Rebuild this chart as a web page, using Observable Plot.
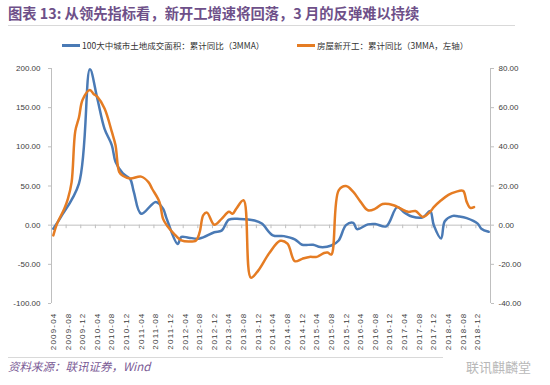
<!DOCTYPE html>
<html><head><meta charset="utf-8">
<script src="https://cdn.jsdelivr.net/npm/d3@7"></script>
<script src="https://cdn.jsdelivr.net/npm/@observablehq/plot@0.6"></script>
<style>
body{margin:0;background:#fff;width:550px;height:385px;position:relative;overflow:hidden;font-family:"Liberation Sans","Noto Sans CJK SC",sans-serif;}
.abs{position:absolute;white-space:nowrap;line-height:1;}
#title{left:8px;top:6px;font-size:14.3px;font-weight:bold;color:#6e5089;font-family:"Noto Sans CJK SC",sans-serif;}
.sep{position:absolute;height:1px;background:#d9d9d9;}
.leg{top:41px;font-size:8.5px;color:#333;font-family:"Noto Sans CJK SC",sans-serif;display:flex;align-items:center;}
.leg i{display:inline-block;width:18px;height:2.5px;margin-right:2px;}
#src{left:8px;top:361px;font-size:11.5px;font-style:italic;color:#7a5a95;font-family:"Noto Sans CJK SC",sans-serif;}
#wm{left:466px;top:360px;font-size:13px;color:#b8b8b8;font-family:"Noto Sans CJK SC",sans-serif;}
#chart{position:absolute;left:0;top:55px;}
#chart g[aria-label="y-axis tick"], #chart g[aria-label="x-axis tick"]{stroke:#bfbfbf;}
#chart g[aria-label="x-axis tick label"] text{letter-spacing:1.2px;}
</style></head>
<body>
<div id="title" class="abs">图表 13: 从领先指标看，新开工增速将回落，3 月的反弹难以持续</div>
<div class="sep" style="left:8px;top:25px;width:507px;"></div>
<div class="abs leg" style="left:62px;"><i style="background:#4a7ab5"></i>100大中城市土地成交面积：累计同比（3MMA）</div>
<div class="abs leg" style="left:297px;"><i style="background:#e57c23"></i>房屋新开工：累计同比（3MMA，左轴）</div>
<div id="chart"></div>
<div class="sep" style="left:8px;top:357px;width:435px;"></div>
<div id="src" class="abs">资料来源：联讯证券，Wind</div>
<div id="wm" class="abs">联讯麒麟堂</div>
<script>
// 100大中城市土地成交面积：累计同比（3MMA） — left axis
const blueDates = ["2009-04","2009-06","2009-11","2010-02","2010-04","2010-06","2010-08","2010-09","2010-11","2011-01","2011-02","2011-04","2011-08","2011-10","2011-11","2012-02","2012-03","2012-05","2012-08","2012-12","2013-02","2013-04","2013-07","2013-11","2014-01","2014-04","2014-07","2014-10","2014-12","2015-03","2015-05","2015-08","2015-10","2015-12","2016-02","2016-03","2016-06","2016-08","2016-11","2017-02","2017-04","2017-06","2017-09","2017-11","2017-12","2018-02","2018-03","2018-05","2018-07","2018-09","2018-12","2019-01","2019-03"];
const blueValues = [-4.5,10,53,199,162,123,102,81,66,59,42.5,14.5,29.7,21,8,-24,-15,-16,-17,-9,-7,7,8,6,2,-13,-14,-18,-25,-25,-28,-26,-19.5,0,3,-5,1,1.5,-1.5,23,16,11,10,18,0,-17,5,11.6,11,9,2,-4.6,-8.5];
// 房屋新开工：累计同比（3MMA） — right-axis units
const orangeDates = ["2009-04","2009-05","2009-07","2009-08","2009-09","2009-10","2009-11","2009-12","2010-02","2010-03","2010-04","2010-06","2010-08","2010-09","2010-10","2010-11","2011-01","2011-04","2011-06","2011-07","2011-09","2011-10","2011-11","2012-01","2012-03","2012-05","2012-07","2012-08","2012-09","2012-10","2012-12","2013-02","2013-04","2013-05","2013-06","2013-08","2013-10","2013-12","2014-03","2014-06","2014-08","2014-10","2014-12","2015-02","2015-04","2015-06","2015-07","2015-08","2015-10","2015-12","2016-02","2016-04","2016-06","2016-08","2016-10","2017-01","2017-03","2017-05","2017-07","2017-09","2017-11","2017-12","2018-02","2018-04","2018-06","2018-08","2018-09","2018-10","2018-11"];
const orangeValues = [-5.2,0.7,8.4,13.6,22,48,55,64,69,67,65.6,59.6,47.6,40.8,27.2,25.2,23.8,24.8,22,18.6,11.9,3.2,0,-4.4,-7.8,-8.4,-7.8,-3.6,5.1,6.4,0.2,3.2,6.8,5.8,8.4,12.7,-26.8,-23.2,-14.4,-8,-9.4,-18.4,-17.2,-16.2,-16.2,-14.2,-14,-15,17.8,20,17,11.9,7.6,8.4,10.8,10.2,8.4,6.8,7.2,4.2,6.8,9.2,12.7,15.5,17,17.5,11.9,8.8,9.2];
const xLabels = ["2009-04","2009-08","2009-12","2010-04","2010-08","2010-12","2011-04","2011-08","2011-12","2012-04","2012-08","2012-12","2013-04","2013-08","2013-12","2014-04","2014-08","2014-12","2015-04","2015-08","2015-12","2016-04","2016-08","2016-12","2017-04","2017-08","2017-12","2018-04","2018-08","2018-12"];
const leftTicks = [-100,-50,0,50,100,150,200];
const rightTicks = [-40,-20,0,20,40,60,80];
const ratio = 2.5; // left / right

const idx = s => { const [y, m] = s.split("-").map(Number); return (y - 2009) * 12 + (m - 4); };
const blue = blueDates.map((d, i) => ({x: idx(d), y: blueValues[i]}));
const orange = orangeDates.map((d, i) => ({x: idx(d), y: orangeValues[i] * ratio}));
const labelOf = new Map(xLabels.map(s => [idx(s), s]));
const nMonths = 120;
const boundaries = d3.range(4, nMonths, 4).map(v => v - 0.5);

const chart = Plot.plot({
  width: 550, height: 300,
  marginLeft: 51, marginRight: 60, marginTop: 13, marginBottom: 52,
  x: {type: "linear", domain: [-0.5, nMonths - 0.5]},
  y: {domain: [-100, 200]},
  style: {fontFamily: "Liberation Sans, sans-serif", fontSize: "8px", color: "#404040", background: "transparent", overflow: "visible"},
  marks: [
    Plot.ruleY([0], {stroke: "#bfbfbf"}),
    Plot.ruleX(boundaries, {y1: 0, y2: -4.5, stroke: "#bfbfbf"}),
    Plot.ruleX([-0.5, nMonths - 0.5], {stroke: "#bfbfbf"}),
    Plot.axisY({anchor: "left", ticks: leftTicks, tickFormat: d => d.toFixed(2), tickSize: 3, tickPadding: 8, label: null}),
    Plot.axisY({anchor: "right", ticks: rightTicks.map(v => v * ratio), tickFormat: d => (d / ratio).toFixed(2), tickSize: 3, tickPadding: 5, label: null}),
    Plot.axisX({anchor: "bottom", ticks: xLabels.map(idx), tickFormat: v => labelOf.get(v), tickRotate: -90, tickSize: 0, tickPadding: 9, label: null}),
    Plot.line(blue, {x: "x", y: "y", stroke: "#4a7ab5", strokeWidth: 2.5, curve: "catmull-rom"}),
    Plot.line(orange, {x: "x", y: "y", stroke: "#e57c23", strokeWidth: 2.5, curve: "catmull-rom"})
  ]
});
document.getElementById("chart").append(chart);
</script>
</body></html>
